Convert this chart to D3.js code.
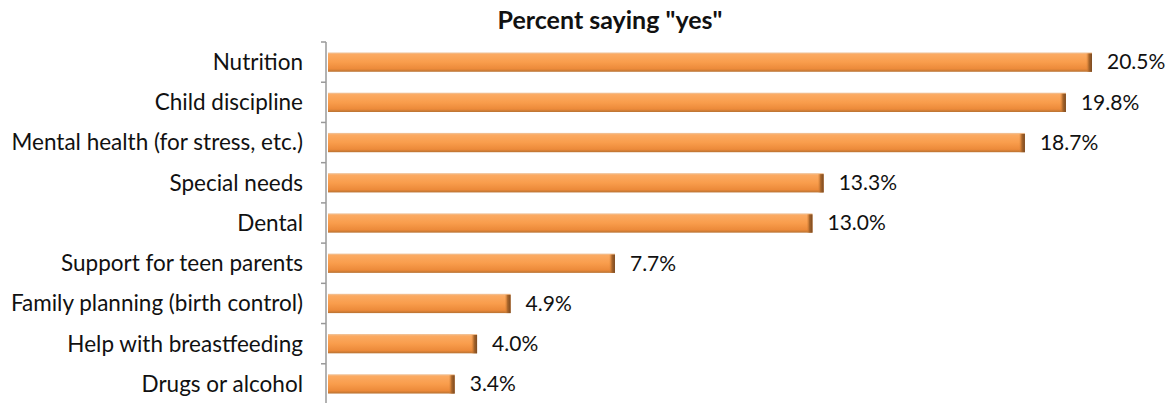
<!DOCTYPE html>
<html>
<head>
<meta charset="utf-8">
<script src="https://cdn.jsdelivr.net/npm/d3@7"></script>
<style>
  body { margin: 0; background: #fff; }
  svg text { font-family: Lato, "Open Sans", sans-serif; fill: #111; }
</style>
</head>
<body>
<svg id="chart" width="1172" height="403"></svg>
<script>
const categories = ['Nutrition', 'Child discipline', 'Mental health (for stress, etc.)', 'Special needs',
  'Dental', 'Support for teen parents', 'Family planning (birth control)', 'Help with breastfeeding', 'Drugs or alcohol']
const values = [20.5, 19.8, 18.7, 13.3, 13.0, 7.7, 4.9, 4.0, 3.4]
const title = 'Percent saying "yes"'

const svg = d3.select('#chart')
const axisLeft = 326, plotTop = 42, plotBottom = 404

const x = d3.scaleLinear().domain([0, 20.5]).range([axisLeft + 2, 1092])
const y = d3.scaleBand().domain(categories).range([plotTop, plotBottom]).paddingInner(0.52).paddingOuter(0.26)

// bar gradient, lighter on top like the excel bevel
const defs = svg.append('defs')
const grad = defs.append('linearGradient').attr('id', 'barGrad')
  .attr('x1', 0).attr('y1', 0).attr('x2', 0).attr('y2', 1)
grad.append('stop').attr('offset', '0%').attr('stop-color', '#efc7a2')
grad.append('stop').attr('offset', '10%').attr('stop-color', '#fbaa62')
grad.append('stop').attr('offset', '50%').attr('stop-color', '#f99d4c')
grad.append('stop').attr('offset', '85%').attr('stop-color', '#ec8a3a')
grad.append('stop').attr('offset', '100%').attr('stop-color', '#b87232')

const edgeGrad = defs.append('linearGradient').attr('id', 'edgeGrad')
  .attr('x1', 0).attr('y1', 0).attr('x2', 1).attr('y2', 0)
edgeGrad.append('stop').attr('offset', '0%').attr('stop-color', '#e0873a').attr('stop-opacity', 0)
edgeGrad.append('stop').attr('offset', '50%').attr('stop-color', '#a8652a')
edgeGrad.append('stop').attr('offset', '100%').attr('stop-color', '#7a4a22')

svg.append('text')
  .attr('x', 610).attr('y', 29)
  .attr('text-anchor', 'middle')
  .style('font-weight', 'bold').style('font-size', '25px')
  .text(title)

// y axis line + ticks between categories
const axisG = svg.append('g').attr('transform', 'translate(' + axisLeft + ',0)')
axisG.append('line').attr('y1', plotTop).attr('y2', plotBottom).attr('stroke', '#999').attr('stroke-width', 1.5)
const bounds = d3.range(categories.length).map(i => plotTop + i * (plotBottom - plotTop) / categories.length)
axisG.selectAll('.tk').data(bounds).join('line')
  .attr('x1', -5).attr('x2', 0).attr('y1', d => d).attr('y2', d => d).attr('stroke', '#999').attr('stroke-width', 1.5)

svg.selectAll('.bar').data(categories).join('rect')
  .attr('x', x(0)).attr('y', d => y(d))
  .attr('width', (d, i) => x(values[i]) - x(0)).attr('height', y.bandwidth())
  .attr('fill', 'url(#barGrad)')

// dark right edge of each bar
svg.selectAll('.edge').data(categories).join('rect')
  .attr('x', (d, i) => x(values[i]) - 6).attr('y', d => y(d) + 1)
  .attr('width', 6).attr('height', y.bandwidth() - 1)
  .attr('fill', 'url(#edgeGrad)')

svg.selectAll('.cat').data(categories).join('text')
  .attr('x', 303).attr('y', d => y(d) + y.bandwidth() / 2)
  .attr('dy', '0.35em').attr('text-anchor', 'end')
  .style('font-size', '22.5px')
  .text(d => d)

svg.selectAll('.val').data(categories).join('text')
  .attr('x', (d, i) => x(values[i]) + 15).attr('y', d => y(d) + y.bandwidth() / 2)
  .attr('dy', '0.35em')
  .style('font-size', '21px')
  .text((d, i) => values[i].toFixed(1) + '%')
</script>
</body>
</html>
